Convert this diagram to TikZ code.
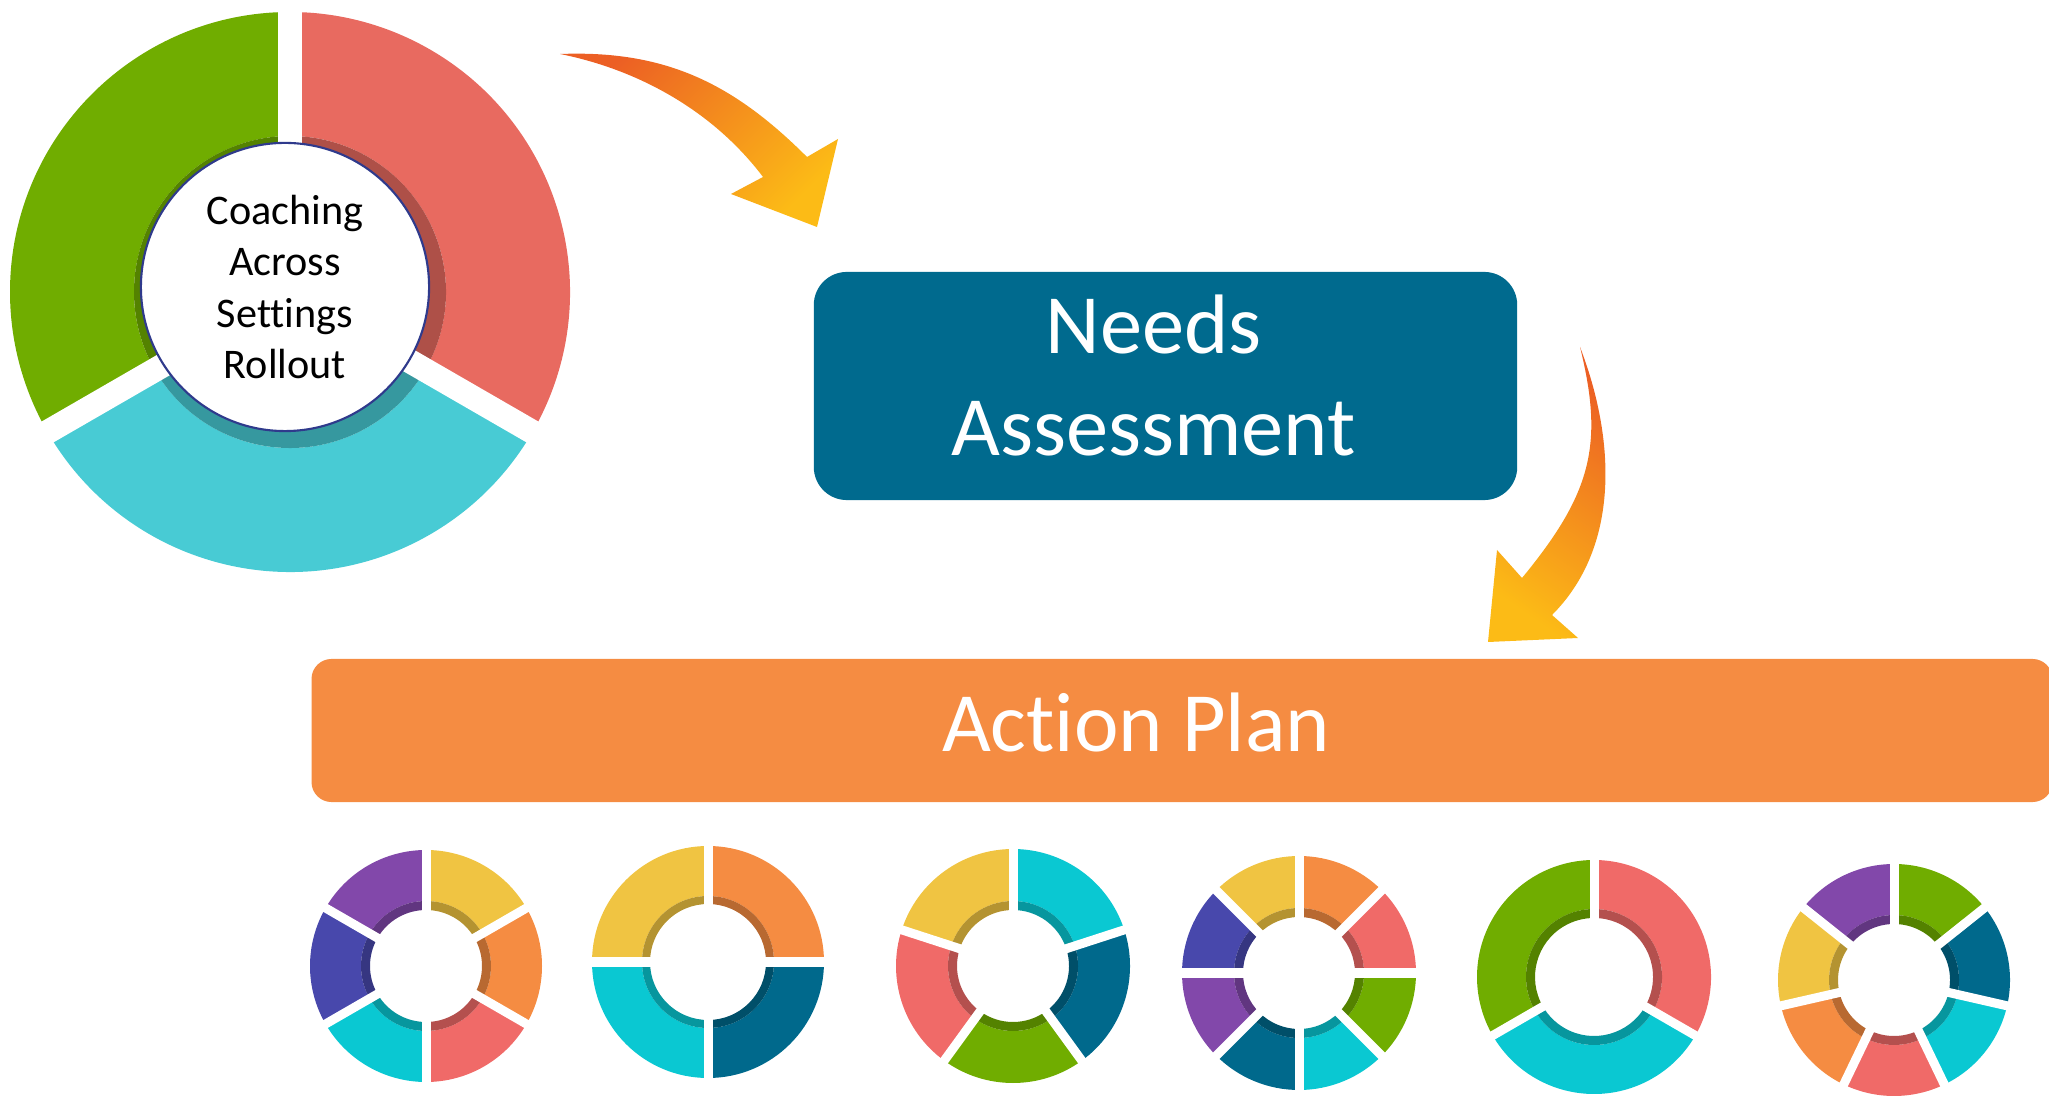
\documentclass[tikz,border=0pt]{standalone}
\usepackage{fontspec}
\setmainfont{Carlito}[Ligatures=NoCommon]
\usetikzlibrary{positioning}
\definecolor{needsblue}{RGB}{0,106,142}
\definecolor{planorange}{RGB}{245,140,66}
\definecolor{cgreen}{RGB}{112,173,0}
\definecolor{cred}{RGB}{232,106,96}
\definecolor{ccyan}{RGB}{72,203,212}
\definecolor{spurple}{RGB}{130,72,170}
\definecolor{syellow}{RGB}{240,196,66}
\definecolor{sorange}{RGB}{245,140,66}
\definecolor{sred}{RGB}{240,106,104}
\definecolor{scyan}{RGB}{10,200,210}
\definecolor{sindigo}{RGB}{72,72,172}
\definecolor{steal}{RGB}{0,105,140}
\definecolor{ringblue}{RGB}{47,58,140}
\definecolor{arrowred}{RGB}{236,95,36}
\definecolor{arrowyellow}{RGB}{252,187,22}
% ring of segments: centre x, centre y, outer r, inner r, rim r, gap, segments
\newcommand{\Ring}[7]{%
	\begin{scope}[shift={(#1,#2)}]
		\foreach \a/\b/\c in {#7}{
			\fill[\c] (\a:#3) arc[start angle=\a, end angle=\b, radius=#3]
				-- (\b:#4) arc[start angle=\b, end angle=\a, radius=#4] -- cycle;
			\fill[\c!75!black] (\a:#4) arc[start angle=\a, end angle=\b, radius=#4]
				-- (\b:#5) arc[start angle=\b, end angle=\a, radius=#5] -- cycle;
		}
		\foreach \a/\b/\c in {#7}
			\draw[white, line width=#6] (0,0) -- (\a:{#3+12});
	\end{scope}}

\begin{document}
\begin{tikzpicture}[% one unit is one pixel of the picture
		x=0.01cm, y=0.01cm,
		rollout/.style={
			circle, fill=white, draw=ringblue, line width=0.6pt,
			minimum size=2.88cm, inner sep=0pt, align=center,
			font=\fontsize{12}{14.6}\selectfont
		},
		needsbox/.style={
			rectangle, rounded corners=0.33cm, fill=needsblue,
			minimum width=7.03cm, minimum height=2.28cm, inner sep=0pt
		},
		planbar/.style={
			rectangle, rounded corners=0.2cm, fill=planorange,
			minimum width=17.40cm, minimum height=1.43cm, inner sep=0pt
		},
		boxtext/.style={text=white, inner sep=0pt, align=center, font=\fontsize{24}{29}\selectfont},
		bigarrow/.style={top color=arrowred, bottom color=arrowyellow}
	]
	\useasboundingbox (0,0) rectangle (2049,1103);
	% big ring with the rollout in the middle
	\Ring{290}{811}{280}{156}{130}{0.24cm}{90/210/cgreen, 210/330/ccyan, -30/90/cred}
	\node[rollout] (rollout) at (285,816) {Coaching\\Across\\Settings\\Rollout};
	\node[needsbox] (needs) at (1165.5,717) {};
	\node[boxtext, xshift=-0.12cm, yshift=0.1cm] (needstext) at (needs.center) {Needs\\Assessment};
	\node[planbar] (plan) at (1182,372.5) {};
	\node[boxtext, xshift=-0.46cm, yshift=0.08cm] (plantext) at (plan.center) {Action Plan};
	% curved arrows
	\shade[bigarrow, shading angle=45]
		(560,1049) .. controls (665,1053) and (733,1020) .. (807,946)
		-- (838,964) -- (817,876) -- (731,909) -- (763,926)
		.. controls (714,991) and (640,1033) .. (560,1049) -- cycle;
	\shade[bigarrow, shading angle=-35]
		(1580,756) .. controls (1615,665) and (1621,557) .. (1552,488)
		-- (1578,465) -- (1488,461) -- (1497,553) -- (1522,525)
		.. controls (1592,610) and (1604,659) .. (1580,756) -- cycle;
	% small rings
	\Ring{426}{137}{116}{65}{56}{0.09cm}{90/150/spurple, 150/210/sindigo, 210/270/scyan, 270/330/sred, -30/30/sorange, 30/90/syellow}
	\Ring{708}{141}{116}{66}{58}{0.09cm}{0/90/sorange, 90/180/syellow, 180/270/scyan, 270/360/steal}
	\Ring{1013}{137}{117}{65}{56}{0.09cm}{18/90/scyan, 90/162/syellow, 162/234/sred, 234/306/cgreen, 306/378/steal}
	\Ring{1299}{130}{117}{65}{56}{0.09cm}{0/45/sred, 45/90/sorange, 90/135/syellow, 135/180/sindigo, 180/225/spurple, 225/270/steal, 270/315/scyan, 315/360/cgreen}
	\Ring{1594}{126}{117}{68}{59}{0.09cm}{90/210/cgreen, 210/330/scyan, -30/90/sred}
	\Ring{1894}{123}{116}{65}{56}{0.09cm}{38.57/90/cgreen, 90/141.43/spurple, 141.43/192.86/syellow, 192.86/244.29/sorange, 244.29/295.71/sred, 295.71/347.14/scyan, 347.14/398.57/steal}
\end{tikzpicture}
\end{document}
